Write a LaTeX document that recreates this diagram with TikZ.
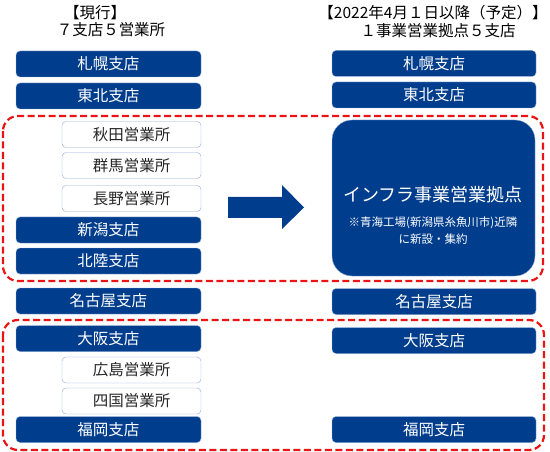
\documentclass[tikz,border=0pt]{standalone}
\usepackage{fontspec}
\setmainfont{Noto Sans CJK JP}
\usepackage{xcolor}
\usepackage{tikz}
\usetikzlibrary{positioning}
\definecolor{navy}{RGB}{0,61,140}
\definecolor{edgeblue}{RGB}{143,170,220}
\definecolor{dashred}{RGB}{235,20,20}

\begin{document}
\begin{tikzpicture}[x=1pt,y=-1pt,font=\fontsize{15.5}{18}\selectfont,
  branch/.style={draw=edgeblue,fill=navy,text=white,rounded corners=4pt,minimum height=26pt,inner sep=0pt},
  office/.style={draw=edgeblue,fill=white,text=black!85,rounded corners=4pt,minimum width=139pt,minimum height=26pt,inner sep=0pt,xshift=3pt},
  group/.style={draw=dashred,line width=2.2pt,dash pattern=on 7pt off 3.5pt,rounded corners=15pt},
  title/.style={align=center,inner sep=0pt}]
\useasboundingbox (0,0) rectangle (550,452);
% headings
\node[title] (curA) at (95,13) {【現行】};
\node[title] (curB) at (111,30) {７支店５営業所};
\node[title] (newA) at (433,13) {【2022年4月１日以降（予定）】};
\node[title] (newB) at (438,31) {１事業営業拠点５支店};
% current organisation
\begin{scope}[branch/.append style={minimum width=185pt}]
\node[branch] (sapL) at (108.5,64) {札幌支店};
\node[branch] (tohL) at (108.5,96) {東北支店};
\node[branch] (niiL) at (108.5,230) {新潟支店};
\node[branch] (hokL) at (108.5,261) {北陸支店};
\node[branch] (ngyL) at (108.5,301) {名古屋支店};
\node[branch] (osaL) at (108.5,338.5) {大阪支店};
\node[branch] (fukL) at (108.5,429.5) {福岡支店};
\end{scope}
\node[office] (akiL) at (128.5,134.5) {秋田営業所};
\node[office] (gunL) at (128.5,165.5) {群馬営業所};
\node[office] (nagL) at (128.5,198.5) {長野営業所};
\node[office] (hirL) at (128.5,370) {広島営業所};
\node[office] (shiL) at (128.5,401) {四国営業所};
% new organisation
\begin{scope}[branch/.append style={minimum width=204pt}]
\node[branch] (sapR) at (434,63.5) {札幌支店};
\node[branch] (tohR) at (434,95) {東北支店};
\node[branch] (ngyR) at (434,301.5) {名古屋支店};
\node[branch] (osaR) at (434,340.5) {大阪支店};
\node[branch] (fukR) at (434,429.5) {福岡支店};
\end{scope}
\node[branch,rounded corners=20pt,minimum width=203pt,minimum height=156pt] (infra) at (433.5,198) {};
\node[text=white,font=\fontsize{18}{20}\selectfont] (infraT) at (433,195) {インフラ事業営業拠点};
\node[text=white,align=center,font=\fontsize{11.5}{17.5}\selectfont,below=6pt of infraT] (infraN) {※青海工場(新潟県糸魚川市)近隣\\に新設・集約};
% groupings
\draw[group] (3,116) rectangle (543,281);
\draw[group] (3,320) rectangle (544,450);
% arrow
\fill[navy] (228,197) -- (282,197) -- (282,185) -- (304,207.5) -- (282,229) -- (282,218) -- (228,218) -- cycle;
\end{tikzpicture}
\end{document}
